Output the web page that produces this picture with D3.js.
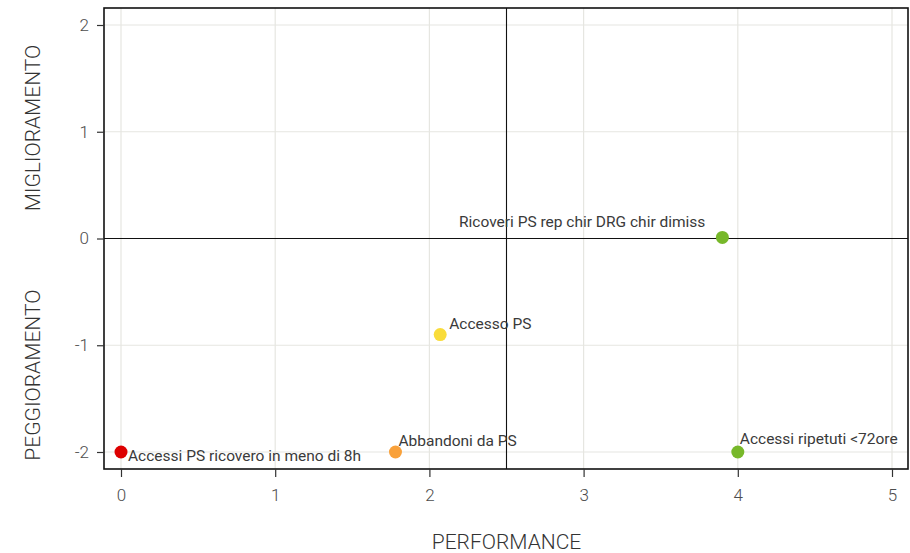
<!DOCTYPE html>
<html>
<head>
<meta charset="utf-8">
<script src="https://cdn.jsdelivr.net/npm/d3@7"></script>
<style>
  body { margin: 0; background: #fff; }
  svg { display: block; font-family: Roboto, "Noto Sans", sans-serif; }
</style>
</head>
<body>
<svg id="chart" width="910" height="553"></svg>
<script>
// Indicators plotted by performance (x) and change over time (y)
const names = [
  "Accessi PS ricovero in meno di 8h",
  "Abbandoni da PS",
  "Accesso PS",
  "Ricoveri PS rep chir DRG chir dimiss",
  "Accessi ripetuti <72ore"
];
const performance = [0, 1.78, 2.07, 3.9, 4.0];
const trend = [-2, -2, -0.9, 0.01, -2];
const colors = ["#dd0000", "#f9a13a", "#f9dc3a", "#77b82a", "#77b82a"];
const xTicks = [0, 1, 2, 3, 4, 5];
const yTicks = [-2, -1, 0, 1, 2];
const xCut = 2.5, yCut = 0;

const svg = d3.select("#chart");
const L = 104, R = 908, T = 8, B = 469;

const x = d3.scaleLinear().domain([0, 5]).range([121, 892]);
const y = d3.scaleLinear().domain([-2, 2]).range([452, 25]);
const fmt = d => String(d);

// grid
const g = svg.append("g");
g.selectAll(".gx").data(xTicks).join("line")
  .attr("x1", d => x(d)).attr("x2", d => x(d)).attr("y1", T).attr("y2", B)
  .attr("stroke", "#e6e6e1").attr("stroke-width", 1.2);
g.selectAll(".gy").data(yTicks).join("line")
  .attr("y1", d => y(d)).attr("y2", d => y(d)).attr("x1", L).attr("x2", R)
  .attr("stroke", "#e6e6e1").attr("stroke-width", 1.2);

// quadrant lines
svg.append("line").attr("x1", x(xCut)).attr("x2", x(xCut)).attr("y1", T).attr("y2", B)
  .attr("stroke", "#111").attr("stroke-width", 1.1);
svg.append("line").attr("x1", L).attr("x2", R).attr("y1", y(yCut)).attr("y2", y(yCut))
  .attr("stroke", "#111").attr("stroke-width", 1.1);

// frame
svg.append("rect").attr("x", L).attr("y", T).attr("width", R - L).attr("height", B - T)
  .attr("fill", "none").attr("stroke", "#111").attr("stroke-width", 1.6);

// axes
const xAxis = svg.append("g").attr("transform", `translate(0,${B})`)
  .call(d3.axisBottom(x).tickValues(xTicks).tickSize(8).tickPadding(12).tickFormat(fmt));
const yAxis = svg.append("g").attr("transform", `translate(${L},0)`)
  .call(d3.axisLeft(y).tickValues(yTicks).tickSize(7).tickPadding(8).tickFormat(fmt));
[xAxis, yAxis].forEach(a => {
  a.select(".domain").remove();
  a.selectAll(".tick line").attr("stroke", "#333").attr("stroke-width", 1.2);
  a.selectAll(".tick text").attr("fill", "#4d4d4d").attr("font-size", 17)
    .attr("font-family", "Roboto, sans-serif").attr("font-weight", 300);
});

// points
svg.selectAll(".pt").data(names).join("circle")
  .attr("cx", (d, i) => x(performance[i]))
  .attr("cy", (d, i) => y(trend[i]))
  .attr("r", 6.5)
  .attr("fill", (d, i) => colors[i]);

// labels placed beside each point
const labelOffset = [
  { dx: 7, dy: 9, anchor: "start" },
  { dx: 3, dy: -6, anchor: "start" },
  { dx: 9, dy: -6, anchor: "start" },
  { dx: -17, dy: -10, anchor: "end" },
  { dx: 2, dy: -8, anchor: "start" }
];
svg.selectAll(".lab").data(names).join("text")
  .attr("x", (d, i) => x(performance[i]) + labelOffset[i].dx)
  .attr("y", (d, i) => y(trend[i]) + labelOffset[i].dy)
  .attr("text-anchor", (d, i) => labelOffset[i].anchor)
  .attr("font-size", 15.5)
  .attr("font-weight", 400)
  .attr("fill", "#3a3a3a")
  .text(d => d);

// axis titles
svg.append("text").attr("x", x(xCut)).attr("y", 549).attr("text-anchor", "middle")
  .attr("font-size", 21).attr("font-weight", 300).attr("fill", "#333").text("PERFORMANCE");
svg.append("text").attr("transform", `translate(40,${y(1.035)}) rotate(-90)`)
  .attr("text-anchor", "middle").attr("font-size", 21).attr("font-weight", 300)
  .attr("fill", "#333").text("MIGLIORAMENTO");
svg.append("text").attr("transform", `translate(40,${y(-1.28)}) rotate(-90)`)
  .attr("text-anchor", "middle").attr("font-size", 21).attr("font-weight", 300)
  .attr("fill", "#333").text("PEGGIORAMENTO");
</script>
</body>
</html>
